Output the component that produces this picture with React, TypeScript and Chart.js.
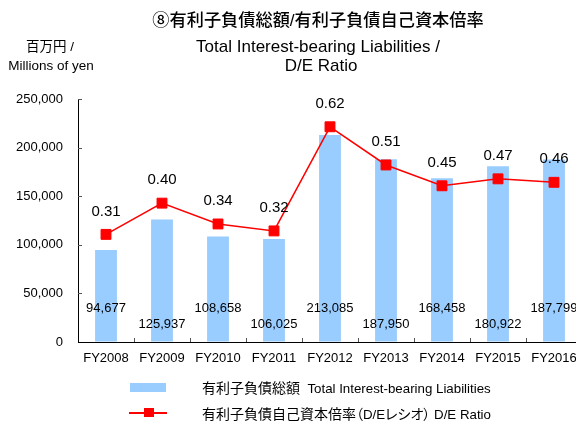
import React, { useEffect, useRef } from "react";
import { Chart, registerables } from "chart.js";

Chart.register(...registerables);

const categories = ["FY2008", "FY2009", "FY2010", "FY2011", "FY2012", "FY2013", "FY2014", "FY2015", "FY2016"];
const liabilities = [94677, 125937, 108658, 106025, 213085, 187950, 168458, 180922, 187799];
const deRatio = [0.31, 0.40, 0.34, 0.32, 0.62, 0.51, 0.45, 0.47, 0.46];
const yMax = 250000;
const yStep = 50000;
const y1Max = 0.7;

const titleJa = "⑧有利子負債総額/有利子負債自己資本倍率";
const titleEn1 = "Total Interest-bearing Liabilities /";
const titleEn2 = "D/E Ratio";
const unitJa = "百万円 /";
const unitEn = "Millions of yen";
const legendBar = "有利子負債総額  Total Interest-bearing Liabilities";
const legendLine = "有利子負債自己資本倍率（D/Eレシオ） D/E Ratio";

const FONT = "'Liberation Sans', Arial, 'Noto Sans CJK JP', sans-serif";
const CJK_FONT = "'Noto Sans CJK JP', sans-serif";

const fmt = (v: number) => v.toLocaleString("en-US");

const labelPlugin = {
  id: "valueLabels",
  afterDatasetsDraw(chart: any) {
    const ctx = chart.ctx;
    const area = chart.chartArea;
    ctx.save();
    ctx.fillStyle = "#000";
    ctx.textAlign = "center";
    ctx.textBaseline = "middle";
    ctx.font = `13px ${FONT}`;
    chart.getDatasetMeta(0).data.forEach((el: any, i: number) => {
      ctx.fillText(fmt(liabilities[i]), el.x, area.bottom - (i % 2 === 0 ? 34 : 18));
    });
    ctx.font = `15px ${FONT}`;
    chart.getDatasetMeta(1).data.forEach((el: any, i: number) => {
      ctx.fillText(deRatio[i].toFixed(2), el.x, el.y - 23);
    });
    // inner tick marks
    ctx.strokeStyle = "#555";
    ctx.lineWidth = 1;
    ctx.beginPath();
    const xs = chart.scales.x;
    for (let i = 1; i <= categories.length; i++) {
      const a = xs.getPixelForValue(i - 1);
      const b = i < categories.length ? xs.getPixelForValue(i) : a + (a - xs.getPixelForValue(i - 2));
      const bx = Math.round((a + b) / 2) + 0.5;
      ctx.moveTo(bx, area.bottom);
      ctx.lineTo(bx, area.bottom - 4);
    }
    const ys = chart.scales.y;
    ys.ticks.forEach((t: any) => {
      if (t.value === 0) return;
      const py = Math.round(ys.getPixelForValue(t.value)) + 0.5;
      ctx.moveTo(area.left, py);
      ctx.lineTo(area.left + 4, py);
    });
    ctx.stroke();
    ctx.restore();
  },
};

const textStyle = (
  top: number,
  left: number,
  width: number,
  size: number,
  align: "center" | "left" = "center"
): React.CSSProperties => ({
  position: "absolute",
  top,
  left,
  width,
  fontSize: size,
  lineHeight: `${size}px`,
  fontFamily: FONT,
  textAlign: align,
  color: "#000",
  whiteSpace: "pre",
});

// split text into CJK / Latin runs so each can use its own size;
// CJK runs use proportional metrics (palt) like the original
const runs = (text: string, cjkSize: number, latinSize: number) => {
  const parts = text.split(/([\u3000-\u9fff\uff00-\uffef]+)/).filter((p) => p.length > 0);
  return parts.map((p, i) => {
    const isCjk = /[\u3000-\u9fff\uff00-\uffef]/.test(p);
    return (
      <span
        key={i}
        style={
          isCjk
            ? { fontFamily: CJK_FONT, fontSize: cjkSize, fontFeatureSettings: '"palt"' }
            : { fontFamily: FONT, fontSize: latinSize }
        }
      >
        {p}
      </span>
    );
  });
};

export default function App() {
  const canvasRef = useRef<HTMLCanvasElement | null>(null);

  useEffect(() => {
    if (!canvasRef.current) return;
    const chart = new Chart(canvasRef.current, {
      type: "bar",
      data: {
        labels: categories,
        datasets: [
          {
            type: "bar",
            label: "有利子負債総額",
            data: liabilities,
            backgroundColor: "#99CCFF",
            borderWidth: 0,
            barPercentage: 0.39,
            categoryPercentage: 1,
            yAxisID: "y",
            order: 2,
          },
          {
            type: "line",
            label: "D/E Ratio",
            data: deRatio,
            borderColor: "#FF0000",
            borderWidth: 1.5,
            pointStyle: "rect",
            pointRadius: 7,
            pointBackgroundColor: "#FF0000",
            pointBorderColor: "#FF0000",
            pointBorderWidth: 1,
            tension: 0,
            yAxisID: "y1",
            order: 1,
          } as any,
        ],
      },
      options: {
        animation: false,
        responsive: false,
        devicePixelRatio: 1,
        layout: { padding: { top: 99, right: 18, bottom: 0, left: 0 } },
        plugins: {
          legend: { display: false },
          tooltip: { enabled: false },
          title: { display: false },
        },
        scales: {
          x: {
            grid: { display: true, drawOnChartArea: false, drawTicks: false },
            border: { display: true, color: "#000", width: 1 },
            ticks: {
              padding: 9,
              color: "#000",
              font: { size: 13, family: FONT },
              maxRotation: 0,
              autoSkip: false,
            },
            afterFit: (s: any) => {
              s.height = 80;
            },
          },
          y: {
            min: 0,
            max: yMax,
            grid: { display: true, drawOnChartArea: false, drawTicks: false },
            border: { display: true, color: "#000", width: 1 },
            ticks: {
              stepSize: yStep,
              padding: 15,
              color: "#000",
              font: { size: 13, family: FONT },
              callback: (v: any) => fmt(Number(v)),
            },
            afterFit: (s: any) => {
              s.width = 78;
            },
          },
          y1: {
            display: false,
            position: "right",
            min: 0,
            max: y1Max,
          },
        },
      },
      plugins: [labelPlugin],
    });
    return () => chart.destroy();
  }, []);

  return (
    <div
      style={{
        position: "fixed",
        top: 0,
        left: 0,
        width: 576,
        height: 422,
        overflow: "hidden",
        background: "#fff",
      }}
    >
      <canvas ref={canvasRef} width={600} height={422} style={{ display: "block" }} />
      <div style={{ ...textStyle(12, 0, 636, 17.2), fontWeight: 500 }}>{titleJa}</div>
      <div style={textStyle(38, 0, 636, 17)}>{titleEn1}</div>
      <div style={textStyle(57, 0, 642, 17)}>{titleEn2}</div>
      <div style={textStyle(40, 0, 100, 13.5)}>{unitJa}</div>
      <div style={textStyle(59, 0, 102, 13.5)}>{unitEn}</div>
      <div
        style={{
          position: "absolute",
          left: 130,
          top: 383,
          width: 36,
          height: 9,
          background: "#99CCFF",
        }}
      />
      <div
        style={{
          position: "absolute",
          left: 129,
          top: 412,
          width: 38,
          height: 1.5,
          background: "#FF0000",
        }}
      />
      <div
        style={{
          position: "absolute",
          left: 143.5,
          top: 408,
          width: 10,
          height: 9,
          background: "#FF0000",
        }}
      />
      <div style={textStyle(380, 202, 380, 14, "left")}>{runs(legendBar, 14, 13.3)}</div>
      <div style={textStyle(406, 202, 380, 14, "left")}>{runs(legendLine, 14, 13.3)}</div>
    </div>
  );
}
